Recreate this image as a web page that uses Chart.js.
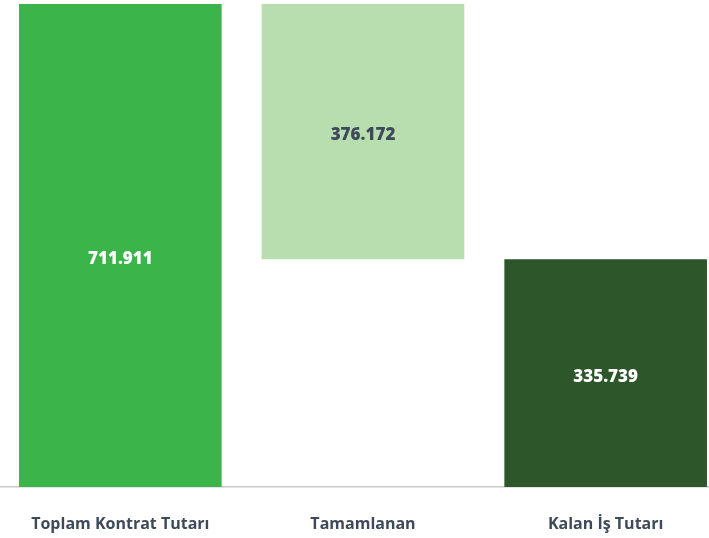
<!DOCTYPE html>
<html>
<head>
<meta charset="utf-8">
<script src="https://cdn.jsdelivr.net/npm/chart.js@4/dist/chart.umd.min.js"></script>
<style>
html,body{margin:0;padding:0;background:#fff;overflow:hidden;}
#wrap{position:absolute;left:-1px;top:0;width:728px;height:538px;}
</style>
</head>
<body>
<div id="wrap"><canvas id="c"></canvas></div>
<script>
const categories = ["Toplam Kontrat Tutarı", "Tamamlanan", "Kalan İş Tutarı"];
const barStarts = [0, 335739, 0];
const barEnds = [711911, 711911, 335739];
const valueLabels = ["711.911", "376.172", "335.739"];
const barColors = ["#3BB54A", "#B8DEB0", "#2E562B"];
const labelColors = ["#ffffff", "#3E4A5A", "#ffffff"];
const labelOffsets = [14, 4, 4];

const labelPlugin = {
  id: 'barLabels',
  afterDatasetsDraw(chart) {
    const ctx = chart.ctx;
    const meta = chart.getDatasetMeta(0);
    ctx.save();
    ctx.font = '800 17px "Open Sans", sans-serif';
    ctx.textAlign = 'center';
    ctx.textBaseline = 'middle';
    meta.data.forEach((bar, i) => {
      const p = bar.getProps(['x', 'y', 'base'], true);
      ctx.fillStyle = labelColors[i];
      ctx.fillText(valueLabels[i], p.x, (p.y + p.base) / 2 + labelOffsets[i]);
    });
    ctx.restore();
  }
};

new Chart(document.getElementById('c'), {
  type: 'bar',
  data: {
    labels: categories,
    datasets: [{
      data: barStarts.map((s, i) => [s, barEnds[i]]),
      backgroundColor: barColors,
      borderWidth: 0,
      barPercentage: 0.835,
      categoryPercentage: 1
    }]
  },
  options: {
    responsive: true,
    maintainAspectRatio: false,
    animation: false,
    layout: { padding: { top: 4, bottom: 0, left: 0, right: 0 } },
    plugins: { legend: { display: false }, tooltip: { enabled: false } },
    scales: {
      x: {
        grid: { display: false, drawTicks: false },
        border: { display: true, color: '#C8C8C8', width: 1.5 },
        afterFit(scale) { scale.height = 51; },
        ticks: {
          color: '#3E4A5A',
          padding: 28,
          maxRotation: 0,
          font: { family: '"Open Sans", sans-serif', size: 16, weight: '700' }
        }
      },
      y: {
        display: false,
        min: 0,
        max: 711911
      }
    }
  },
  plugins: [labelPlugin]
});
</script>
</body>
</html>
